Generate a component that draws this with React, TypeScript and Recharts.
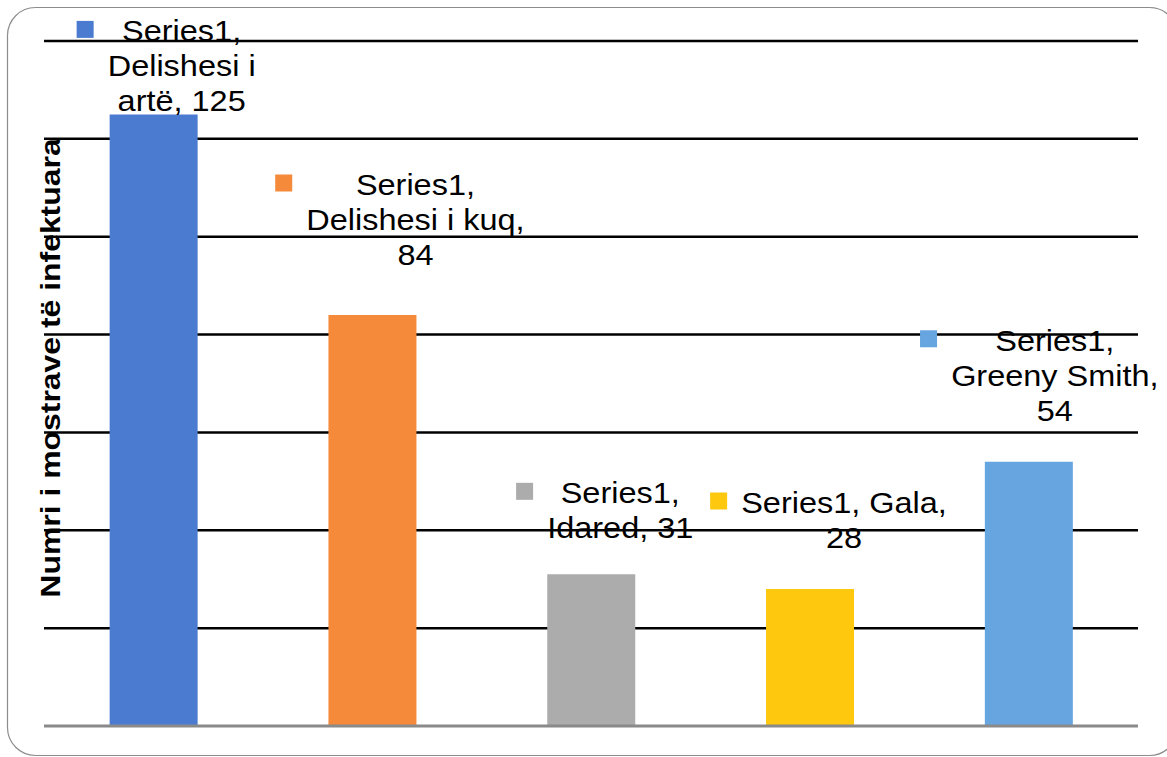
import { Bar, BarChart, CartesianGrid, Cell, LabelList, ReferenceLine, XAxis, YAxis } from "recharts";

const seriesName = "Series1";
const categories = ["Delishesi i artë", "Delishesi i kuq", "Idared", "Gala", "Greeny Smith"];
const values = [125, 84, 31, 28, 54];
const colors = ["#4a7bd0", "#f58a3a", "#acacac", "#fec80f", "#66a5df"];
const yTicks = [0, 20, 40, 60, 80, 100, 120, 140];
const yTitle = "Numri i mostrave të infektuara";

// word counts after which each data label wraps onto a new line
const labelBreaks = [[1, 3], [1, 4], [1], [2], [1, 3]];
// label placement relative to the bar's centre / top (like the manual moves in the source)
const labelOffsets = [
  { dx: 28, dy: -83 },
  { dx: 43, dy: -130 },
  { dx: 29, dy: -81 },
  { dx: 34, dy: -86 },
  { dx: 26, dy: -121 },
];

const data = categories.map((name, i) => ({ name, value: values[i] }));

const FAMILY = "'Liberation Sans', Arial, sans-serif";
const FONT_SIZE = 29;
const STRETCH = 1.12; // source text is a bit wider than Liberation Sans
const LINE_H = 35;

let ctx: CanvasRenderingContext2D | null = null;
function textWidth(s: string) {
  if (!ctx) ctx = document.createElement("canvas").getContext("2d");
  if (!ctx) return s.length * 15;
  ctx.font = `${FONT_SIZE}px ${FAMILY}`;
  return ctx.measureText(s).width * STRETCH;
}

function labelLines(i: number) {
  const words = `${seriesName}, ${categories[i]}, ${values[i]}`.split(" ");
  const cuts = [0, ...labelBreaks[i], words.length];
  const lines: string[] = [];
  for (let k = 0; k < cuts.length - 1; k++) lines.push(words.slice(cuts[k], cuts[k + 1]).join(" "));
  return lines;
}

function DataLabel(props: any) {
  const { x, y, width, index } = props;
  const off = labelOffsets[index];
  const cx = Number(x) + Number(width) / 2 + off.dx;
  const top = Number(y) + off.dy;
  const lines = labelLines(index);
  const maxW = Math.max(...lines.map(textWidth));
  const sq = 17;
  return (
    <g>
      <rect x={cx - maxW / 2 - 31} y={top - sq / 2 - 2} width={sq} height={sq} fill={colors[index]} />
      <g transform={`translate(${cx} 0) scale(${STRETCH} 1)`}>
        {lines.map((l, k) => (
          <text
            key={k}
            x={0}
            y={top + k * LINE_H}
            textAnchor="middle"
            dominantBaseline="central"
            fontFamily={FAMILY}
            fontSize={FONT_SIZE}
            fill="#000"
          >
            {l}
          </text>
        ))}
      </g>
    </g>
  );
}

export default function App() {
  return (
    <div style={{ position: "absolute", left: 0, top: 0, width: 1167, height: 757, background: "#fff", overflow: "hidden" }}>
      <svg width={1167} height={757} style={{ position: "absolute", left: 0, top: 0 }}>
        <rect x={7.5} y={7.5} width={1170} height={748} rx={28} ry={28} fill="#fff" stroke="#8c8c8c" strokeWidth={1.2} />
      </svg>
      <div style={{ position: "absolute", left: 0, top: 0 }}>
        <BarChart
          width={1167}
          height={757}
          data={data}
          margin={{ top: 41, right: 29, bottom: 31, left: 44 }}
          barCategoryGap="30%"
        >
          <CartesianGrid vertical={false} stroke="#000" strokeWidth={2.5} horizontalValues={yTicks.slice(1)} />
          <YAxis hide domain={[0, 140]} ticks={yTicks} />
          <XAxis dataKey="name" hide />
          <ReferenceLine y={0} stroke="#8a8a8a" strokeWidth={3} />
          <Bar dataKey="value" isAnimationActive={false}>
            {data.map((d, i) => (
              <Cell key={d.name} fill={colors[i]} />
            ))}
            <LabelList dataKey="value" content={<DataLabel />} />
          </Bar>
        </BarChart>
      </div>
      <svg width={1167} height={757} style={{ position: "absolute", left: 0, top: 0, pointerEvents: "none" }}>
        <g transform="translate(50 368) rotate(-90) scale(1.14 1)">
          <text
            x={0}
            y={0}
            textAnchor="middle"
            dominantBaseline="central"
            fontFamily={FAMILY}
            fontWeight="bold"
            fontSize={28}
            fill="#000"
          >
            {yTitle}
          </text>
        </g>
      </svg>
    </div>
  );
}
